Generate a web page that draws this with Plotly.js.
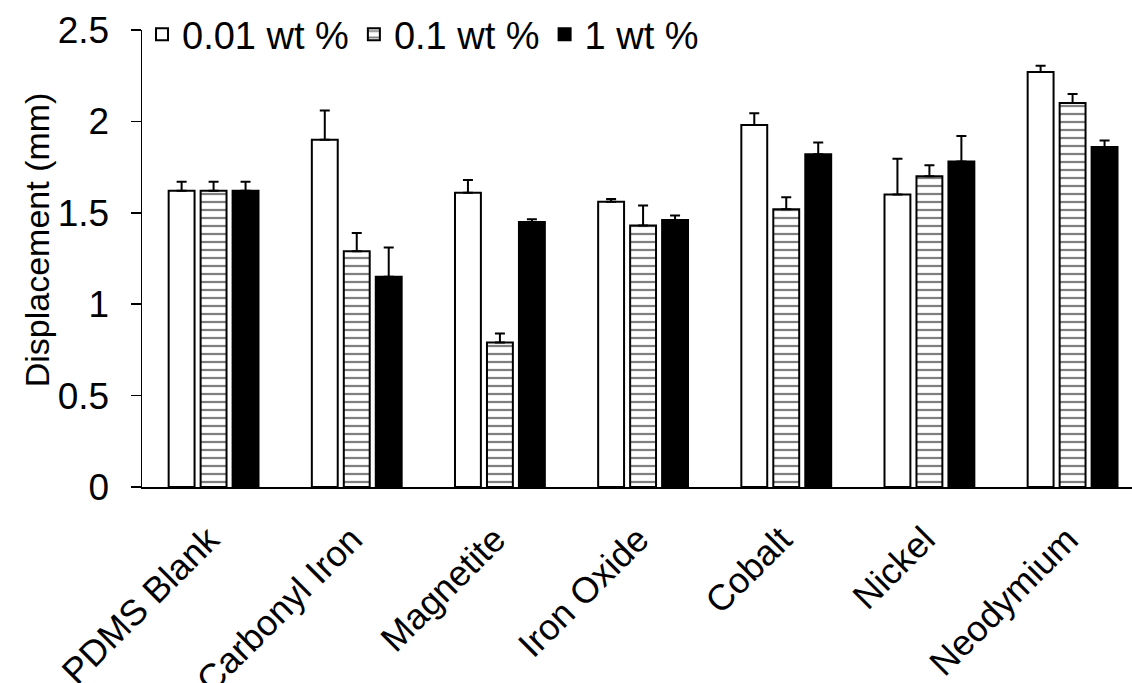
<!DOCTYPE html>
<html>
<head>
<meta charset="utf-8">
<script src="https://cdn.plot.ly/plotly-3.0.1.min.js"></script>
<style>
  html, body { margin: 0; padding: 0; background: #fff; }
  #chart { width: 1132px; height: 683px; }
</style>
</head>
<body>
<div id="chart"></div>
<script>
// Particle types tested
const categories = ['PDMS Blank', 'Carbonyl Iron', 'Magnetite', 'Iron Oxide', 'Cobalt', 'Nickel', 'Neodymium'];

// Mean displacement (mm) per loading, with standard deviation
const disp001 = [1.62, 1.90, 1.61, 1.56, 1.98, 1.60, 2.27];
const err001  = [0.05, 0.16, 0.07, 0.015, 0.065, 0.195, 0.035];

const disp01 = [1.62, 1.29, 0.79, 1.43, 1.52, 1.70, 2.10];
const err01  = [0.05, 0.10, 0.05, 0.11, 0.065, 0.06, 0.05];

const disp1 = [1.62, 1.15, 1.45, 1.46, 1.82, 1.78, 1.86];
const err1  = [0.05, 0.16, 0.015, 0.025, 0.065, 0.14, 0.035];

const seriesNames = ['0.01 wt %', '0.1 wt %', '1 wt %'];
const yTicks = [0, 0.5, 1, 1.5, 2, 2.5];

const FONT = 'Arial, "Liberation Sans", sans-serif';

// upper-only error bars with short caps
function errorBars(arr) {
  return {
    type: 'data', symmetric: false, array: arr,
    arrayminus: arr.map(() => 0),
    color: '#000', thickness: 2, width: 5
  };
}

const traces = [
  {
    type: 'bar', name: seriesNames[0], x: categories, y: disp001,
    marker: { color: '#fff', line: { color: '#000', width: 2 } },
    error_y: errorBars(err001)
  },
  {
    type: 'bar', name: seriesNames[1], x: categories, y: disp01,
    marker: {
      color: '#fff', line: { color: '#000', width: 2 },
      pattern: { shape: '-', size: 8, solidity: 0.28, fgcolor: '#000', bgcolor: '#fff', fillmode: 'overlay' }
    },
    error_y: errorBars(err01)
  },
  {
    type: 'bar', name: seriesNames[2], x: categories, y: disp1,
    marker: { color: '#000', line: { color: '#000', width: 2 } },
    error_y: errorBars(err1)
  }
];

const layout = {
  width: 1132, height: 683,
  margin: { l: 142, r: 0, t: 29.5, b: 196, pad: 0 },
  paper_bgcolor: '#fff', plot_bgcolor: '#fff',
  font: { family: FONT, color: '#000', size: 36 },
  barmode: 'group', bargap: 0.33, bargroupgap: 0.19,
  showlegend: true,
  legend: {
    orientation: 'h', x: 0.0, y: 0.99, xanchor: 'left', yanchor: 'middle',
    font: { family: FONT, size: 38, color: '#000' },
    bgcolor: 'rgba(0,0,0,0)', itemwidth: 30, traceorder: 'normal'
  },
  xaxis: {
    type: 'category', range: [-0.5, 6.415],
    showline: true, linecolor: '#000', linewidth: 2,
    ticks: '', tickangle: -45, showgrid: false, zeroline: false,
    tickfont: { family: FONT, size: 36, color: '#000' },
    ticklabelstandoff: 15, ticklabelshift: -5,
    automargin: false, fixedrange: true
  },
  yaxis: {
    range: [0, 2.5], tickvals: yTicks, ticktext: yTicks.map(String),
    showline: true, linecolor: '#000', linewidth: 1.5,
    ticks: 'outside', ticklen: 10, tickwidth: 1.5, tickcolor: '#000',
    ticklabelstandoff: 14,
    showgrid: false, zeroline: false,
    tickfont: { family: FONT, size: 37, color: '#000' },
    automargin: false, fixedrange: true
  },
  annotations: [{
    text: 'Displacement (mm)', textangle: -90,
    xref: 'paper', yref: 'paper', x: -0.106, y: 0.54,
    xanchor: 'center', yanchor: 'middle', showarrow: false,
    font: { family: FONT, size: 34, color: '#000' }
  }]
};

Plotly.newPlot('chart', traces, layout, { staticPlot: true, displayModeBar: false });
</script>
</body>
</html>
